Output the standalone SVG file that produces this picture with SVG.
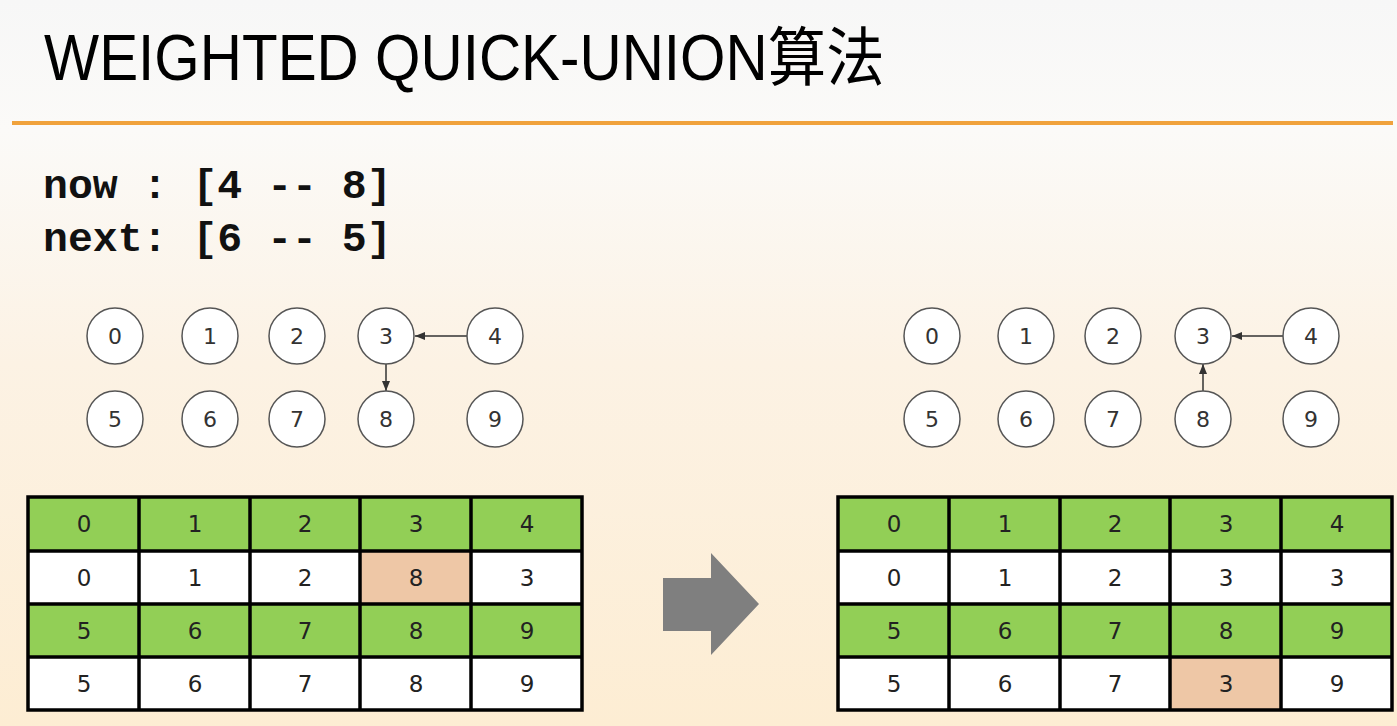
<svg xmlns="http://www.w3.org/2000/svg" width="1397" height="726" viewBox="0 0 1397 726">
<defs>
<linearGradient id="bg" x1="0" y1="0" x2="0" y2="1">
<stop offset="0" stop-color="#F7F7F7"/>
<stop offset="0.18" stop-color="#FBFAF8"/>
<stop offset="0.5" stop-color="#FCF2E4"/>
<stop offset="1" stop-color="#FDEDD3"/>
</linearGradient>
<marker id="ah" viewBox="0 0 10 10" refX="10" refY="5" markerWidth="10" markerHeight="10" markerUnits="userSpaceOnUse" orient="auto">
<path d="M0,1 L10,5 L0,9 Z" fill="#333"/>
</marker>
<style>
.nd circle{fill:#fff;stroke:#555;stroke-width:1.5}
.nd text{font-family:"DejaVu Sans",sans-serif;font-size:22px;fill:#333;text-anchor:middle;dominant-baseline:central}
.edge{stroke:#333;stroke-width:1.5;fill:none;marker-end:url(#ah)}
.code{font-family:"Liberation Mono",monospace;font-weight:bold;font-size:41.5px;fill:#111}
.cg{fill:#92CF56}
.cw{fill:#fff}
.ch{fill:#EEC7A6}
.grid{stroke:#000;stroke-width:3.5;fill:none}
.ct{font-family:"DejaVu Sans",sans-serif;font-size:23px;fill:#222;text-anchor:middle;dominant-baseline:central}
</style>
</defs>
<rect width="1397" height="726" fill="url(#bg)"/>
<text transform="translate(44,80) scale(0.913,1)" x="0" y="0" font-family="Liberation Sans, 'Noto Sans CJK SC', sans-serif" font-size="64" fill="#000">WEIGHTED QUICK-UNION算法</text>
<rect x="12" y="121" width="1381" height="4" fill="#F0A23C"/>
<text class="code" x="43" y="198">now : [4 -- 8]</text>
<text class="code" x="43" y="251">next: [6 -- 5]</text>

<g id="connectors">
<line class="edge" x1="467" y1="336" x2="415" y2="336"/>
<line class="edge" x1="386" y1="364" x2="386" y2="391"/>
<line class="edge" x1="1283" y1="336" x2="1232" y2="336"/>
<line class="edge" x1="1203" y1="391" x2="1203" y2="364"/>
</g>

<g id="L0" class="nd"><circle cx="115" cy="336" r="28"/><text x="115" y="336">0</text></g>
<g id="L1" class="nd"><circle cx="210" cy="336" r="28"/><text x="210" y="336">1</text></g>
<g id="L2" class="nd"><circle cx="297" cy="336" r="28"/><text x="297" y="336">2</text></g>
<g id="L3" class="nd"><circle cx="386" cy="336" r="28"/><text x="386" y="336">3</text></g>
<g id="L4" class="nd"><circle cx="495" cy="336" r="28"/><text x="495" y="336">4</text></g>
<g id="L5" class="nd"><circle cx="115" cy="419" r="28"/><text x="115" y="419">5</text></g>
<g id="L6" class="nd"><circle cx="210" cy="419" r="28"/><text x="210" y="419">6</text></g>
<g id="L7" class="nd"><circle cx="297" cy="419" r="28"/><text x="297" y="419">7</text></g>
<g id="L8" class="nd"><circle cx="386" cy="419" r="28"/><text x="386" y="419">8</text></g>
<g id="L9" class="nd"><circle cx="495" cy="419" r="28"/><text x="495" y="419">9</text></g>

<g id="R0" class="nd"><circle cx="932" cy="336" r="28"/><text x="932" y="336">0</text></g>
<g id="R1" class="nd"><circle cx="1026" cy="336" r="28"/><text x="1026" y="336">1</text></g>
<g id="R2" class="nd"><circle cx="1113" cy="336" r="28"/><text x="1113" y="336">2</text></g>
<g id="R3" class="nd"><circle cx="1203" cy="336" r="28"/><text x="1203" y="336">3</text></g>
<g id="R4" class="nd"><circle cx="1311" cy="336" r="28"/><text x="1311" y="336">4</text></g>
<g id="R5" class="nd"><circle cx="932" cy="419" r="28"/><text x="932" y="419">5</text></g>
<g id="R6" class="nd"><circle cx="1026" cy="419" r="28"/><text x="1026" y="419">6</text></g>
<g id="R7" class="nd"><circle cx="1113" cy="419" r="28"/><text x="1113" y="419">7</text></g>
<g id="R8" class="nd"><circle cx="1203" cy="419" r="28"/><text x="1203" y="419">8</text></g>
<g id="R9" class="nd"><circle cx="1311" cy="419" r="28"/><text x="1311" y="419">9</text></g>

<g id="tableL">
<rect class="cg" x="28" y="497" width="554" height="54"/>
<rect class="cw" x="28" y="551" width="554" height="53"/>
<rect class="ch" x="360" y="551" width="111" height="53"/>
<rect class="cg" x="28" y="604" width="554" height="53"/>
<rect class="cw" x="28" y="657" width="554" height="53"/>
<path class="grid" d="M28,497H582V710H28Z M28,551H582 M28,604H582 M28,657H582 M139,497V710 M250,497V710 M360,497V710 M471,497V710"/>
<text class="ct" x="84" y="524">0</text><text class="ct" x="195" y="524">1</text><text class="ct" x="305" y="524">2</text><text class="ct" x="416" y="524">3</text><text class="ct" x="527" y="524">4</text>
<text class="ct" x="84" y="578">0</text><text class="ct" x="195" y="578">1</text><text class="ct" x="305" y="578">2</text><text class="ct" x="416" y="578">8</text><text class="ct" x="527" y="578">3</text>
<text class="ct" x="84" y="631">5</text><text class="ct" x="195" y="631">6</text><text class="ct" x="305" y="631">7</text><text class="ct" x="416" y="631">8</text><text class="ct" x="527" y="631">9</text>
<text class="ct" x="84" y="684">5</text><text class="ct" x="195" y="684">6</text><text class="ct" x="305" y="684">7</text><text class="ct" x="416" y="684">8</text><text class="ct" x="527" y="684">9</text>
</g>

<g id="bigArrow">
<path d="M663,578 H711 V553 L759,604 L711,655 V631 H663 Z" fill="#7F7F7F"/>
</g>

<g id="tableR">
<rect class="cg" x="838" y="497" width="554" height="54"/>
<rect class="cw" x="838" y="551" width="554" height="53"/>
<rect class="cg" x="838" y="604" width="554" height="53"/>
<rect class="cw" x="838" y="657" width="554" height="53"/>
<rect class="ch" x="1170" y="657" width="111" height="53"/>
<path class="grid" d="M838,497H1392V710H838Z M838,551H1392 M838,604H1392 M838,657H1392 M949,497V710 M1060,497V710 M1170,497V710 M1281,497V710"/>
<text class="ct" x="894" y="524">0</text><text class="ct" x="1005" y="524">1</text><text class="ct" x="1115" y="524">2</text><text class="ct" x="1226" y="524">3</text><text class="ct" x="1337" y="524">4</text>
<text class="ct" x="894" y="578">0</text><text class="ct" x="1005" y="578">1</text><text class="ct" x="1115" y="578">2</text><text class="ct" x="1226" y="578">3</text><text class="ct" x="1337" y="578">3</text>
<text class="ct" x="894" y="631">5</text><text class="ct" x="1005" y="631">6</text><text class="ct" x="1115" y="631">7</text><text class="ct" x="1226" y="631">8</text><text class="ct" x="1337" y="631">9</text>
<text class="ct" x="894" y="684">5</text><text class="ct" x="1005" y="684">6</text><text class="ct" x="1115" y="684">7</text><text class="ct" x="1226" y="684">3</text><text class="ct" x="1337" y="684">9</text>
</g>
</svg>
